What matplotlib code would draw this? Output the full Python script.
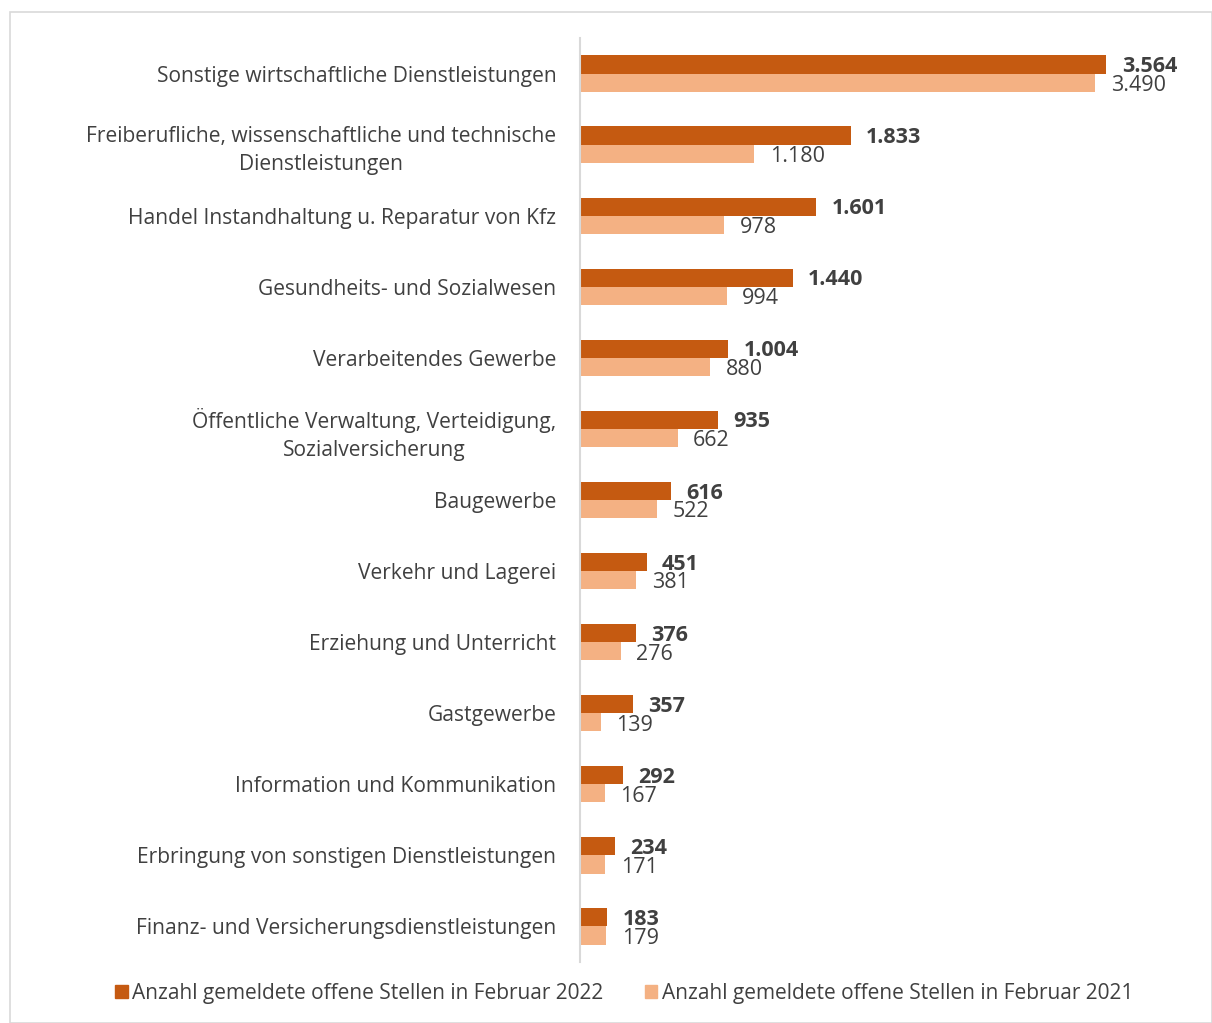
import matplotlib
matplotlib.use('Agg')
import matplotlib.pyplot as plt
from matplotlib.patches import Rectangle, Patch

categories = [
    'Sonstige wirtschaftliche Dienstleistungen',
    'Freiberufliche, wissenschaftliche und technische\nDienstleistungen',
    'Handel Instandhaltung u. Reparatur von Kfz',
    'Gesundheits- und Sozialwesen',
    'Verarbeitendes Gewerbe',
    'Öffentliche Verwaltung, Verteidigung,\nSozialversicherung',
    'Baugewerbe',
    'Verkehr und Lagerei',
    'Erziehung und Unterricht',
    'Gastgewerbe',
    'Information und Kommunikation',
    'Erbringung von sonstigen Dienstleistungen',
    'Finanz- und Versicherungsdienstleistungen',
]
feb_2022 = [3564, 1833, 1601, 1440, 1004, 935, 616, 451, 376, 357, 292, 234, 183]
feb_2021 = [3490, 1180, 978, 994, 880, 662, 522, 381, 276, 139, 167, 171, 179]
legend_labels = ['Anzahl gemeldete offene Stellen in Februar 2022',
                 'Anzahl gemeldete offene Stellen in Februar 2021']

dark = '#C55A11'
light = '#F4B183'
txt = '#404040'

plt.rcParams['font.family'] = ['Open Sans', 'DejaVu Sans']


def de(n):
    return f'{n:,}'.replace(',', '.')


fig = plt.figure(figsize=(12.12, 10.23), dpi=100)
fig.patches.append(Rectangle((10 / 1212, 0), 1 - 10 / 1212, 1 - 12 / 1023,
                             transform=fig.transFigure, fill=False,
                             edgecolor='#D9D9D9', lw=1.2))
ax = fig.add_axes([580 / 1212, 1 - 962 / 1023, 0.5, (962 - 38) / 1023])

y = list(range(len(categories)))
h = 0.255
ax.barh([i - h / 2 for i in y], feb_2022, height=h, color=dark)
ax.barh([i + h / 2 for i in y], feb_2021, height=h, color=light)

off = 105
for i in y:
    ax.text(feb_2022[i] + off, i - h / 2 + 0.03, de(feb_2022[i]), va='center', ha='left',
            fontsize=15.5, fontweight='bold', color=txt)
    ax.text(feb_2021[i] + off, i + h / 2 + 0.04, de(feb_2021[i]), va='center', ha='left',
            fontsize=15.5, color=txt)

ax.set_ylim(len(categories) - 0.5, -0.5)
ax.set_xlim(0, 4105)
ax.set_yticks(y)
ax.set_yticklabels(categories, fontsize=15.1, color=txt)
for lab in ax.get_yticklabels():
    lab.set_multialignment('center')
    lab.set_linespacing(1.4)
ax.tick_params(axis='y', length=0, pad=17)
ax.set_xticks([])
for s in ['top', 'right', 'bottom']:
    ax.spines[s].set_visible(False)
ax.spines['left'].set_color('#D9D9D9')
ax.spines['left'].set_linewidth(1.5)

handles = [Patch(color=dark), Patch(color=light)]
fig.legend(handles, legend_labels, loc='center', bbox_to_anchor=(0.515, 1 - 993 / 1023),
           ncol=2, frameon=False, fontsize=15, labelcolor=txt,
           handlelength=0.6, handleheight=0.6, handletextpad=0.2, columnspacing=2.0)

fig.savefig('out.png', dpi=100)
